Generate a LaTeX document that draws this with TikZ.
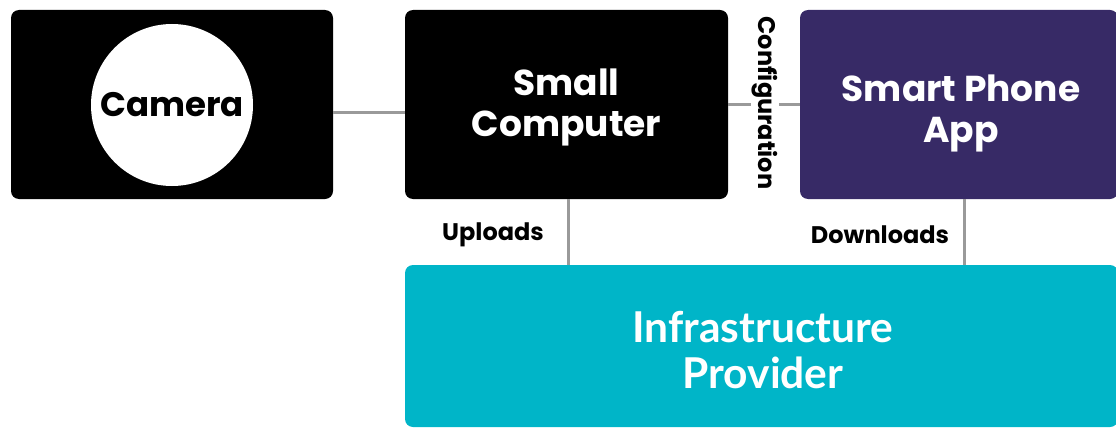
\documentclass[tikz,border=0pt]{standalone}
\usepackage{fontspec}
\setmainfont{Poppins}
\newfontfamily\latofont{Lato}
\definecolor{phonepurple}{HTML}{372A66}
\definecolor{cloudteal}{HTML}{00B5C8}
\definecolor{linkgray}{HTML}{9A9A9A}
\begin{document}
\begin{tikzpicture}[x=1pt,y=-1pt,
  box/.style={rounded corners=8pt, inner sep=0pt, text=white, align=center,
              font=\fontsize{36}{41}\selectfont\bfseries},
  link/.style={draw=linkgray, line width=3pt},
  tag/.style={font=\fontsize{24}{28}\selectfont\bfseries, text=black, inner sep=1pt}]
\useasboundingbox (0,0) rectangle (1116,428);
% boxes
\node[box, fill=black, minimum width=322pt, minimum height=189pt] (cam) at (172,104.5) {};
\node[circle, fill=white, inner sep=0pt, minimum size=162pt,
      font=\fontsize{34}{40}\selectfont\bfseries] (lens) at (172,105) {Camera};
\node[box, fill=black, minimum width=323pt, minimum height=189pt] (comp) at (566.5,104.5) {};
\node[box, text=white] (comptxt) at (566.5,107) {Small\\Computer};
\node[box, fill=phonepurple, minimum width=318pt, minimum height=189pt] (phone) at (959,104.5) {};
\node[box, text=white] (phonetxt) at (961,113) {Smart Phone\\App};
\node[box, fill=cloudteal, minimum width=713pt, minimum height=162pt] (infra) at (761.5,346) {};
\node[box, font=\latofont\fontsize{42.5}{46}\selectfont\bfseries] (infratxt) at (763,350)
  {Infrastructure\\Provider};
% connectors
\draw[link] ([yshift=-7.5pt]cam.east) -- ([yshift=-7.5pt]comp.west);
\draw[link] (comp.east) -- (phone.west);
\draw[link] ([xshift=1.5pt]comp.south) -- ([xshift=1.5pt]comp.south |- infra.north);
\draw[link] ([xshift=5pt]phone.south) -- ([xshift=5pt]phone.south |- infra.north);
% labels
\node[tag, fill=white, rotate=-90] (cfg) at (765,103) {Configuration};
\node[tag] (up) at (493,235) {Uploads};
\node[tag] (down) at (880,235) {Downloads};
\end{tikzpicture}
\end{document}
